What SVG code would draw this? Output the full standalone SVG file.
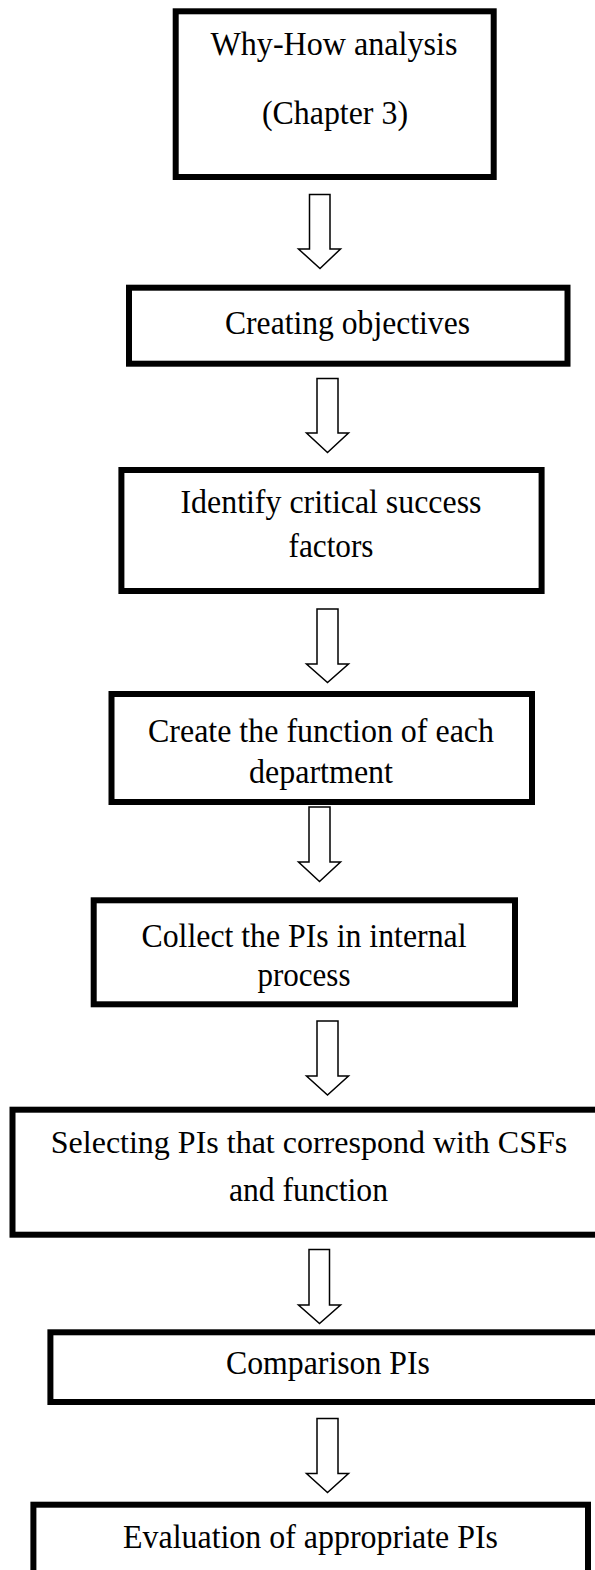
<svg xmlns="http://www.w3.org/2000/svg" width="595" height="1570" viewBox="0 0 595 1570">
  <style>
    .box { fill: #ffffff; stroke: #000000; stroke-width: 6; }
    .lbl { font-family: "Liberation Serif", "Times New Roman", serif; font-size: 34px; fill: #000000; text-anchor: middle; }
    .arrow { fill: #ffffff; stroke: #000000; stroke-width: 1.5; stroke-linejoin: miter; }
  </style>
  <rect x="0" y="0" width="595" height="1570" fill="#ffffff"/>

  <!-- block arrows between the steps -->
  <g id="connectors">
    <path class="arrow" d="M309.5,194.5 H330 V249 H340.5 L320,268.5 L298.5,249 H309.5 Z"/>
    <path class="arrow" d="M317,378.5 H338 V433 H348.5 L327.5,452.5 L306.5,433 H317 Z"/>
    <path class="arrow" d="M317,609 H338 V664 H348.5 L327.5,682.5 L306.5,664 H317 Z"/>
    <path class="arrow" d="M309,807 H330 V862 H340.5 L319.5,881.5 L298.5,862 H309 Z"/>
    <path class="arrow" d="M317,1021 H338 V1076 H348.5 L327.5,1095 L306.5,1076 H317 Z"/>
    <path class="arrow" d="M309,1249.5 H329.5 V1305 H340.5 L319.5,1323.5 L298.5,1305 H309 Z"/>
    <path class="arrow" d="M317,1418.5 H338 V1473.5 H348.5 L327.5,1492.5 L306.5,1473.5 H317 Z"/>
  </g>

  <g id="why-how">
    <rect class="box" x="175.7" y="11.3" width="318" height="165.7"/>
    <text class="lbl" x="334" y="55" textLength="247" lengthAdjust="spacingAndGlyphs">Why-How analysis</text>
    <text class="lbl" x="335" y="124" textLength="146" lengthAdjust="spacingAndGlyphs">(Chapter 3)</text>
  </g>

  <g id="creating-objectives">
    <rect class="box" x="129" y="287.7" width="438.5" height="76"/>
    <text class="lbl" x="347.5" y="334" textLength="245" lengthAdjust="spacingAndGlyphs">Creating objectives</text>
  </g>

  <g id="identify-csf">
    <rect class="box" x="121.4" y="470" width="420.2" height="121"/>
    <text class="lbl" x="331" y="513" textLength="301" lengthAdjust="spacingAndGlyphs">Identify critical success</text>
    <text class="lbl" x="331" y="557" textLength="85" lengthAdjust="spacingAndGlyphs">factors</text>
  </g>

  <g id="department-function">
    <rect class="box" x="111.5" y="694" width="420.5" height="108"/>
    <text class="lbl" x="321" y="742" textLength="346" lengthAdjust="spacingAndGlyphs">Create the function of each</text>
    <text class="lbl" x="321" y="783" textLength="144" lengthAdjust="spacingAndGlyphs">department</text>
  </g>

  <g id="collect-pis">
    <rect class="box" x="93.7" y="900.3" width="421.3" height="104"/>
    <text class="lbl" x="304" y="947" textLength="325" lengthAdjust="spacingAndGlyphs">Collect the PIs in internal</text>
    <text class="lbl" x="304" y="986" textLength="93" lengthAdjust="spacingAndGlyphs">process</text>
  </g>

  <g id="selecting-pis">
    <rect class="box" x="12.5" y="1109.7" width="590" height="125"/>
    <text class="lbl" x="309" y="1153" style="font-size:32px">Selecting PIs that correspond with CSFs</text>
    <text class="lbl" x="308.5" y="1201" textLength="159" lengthAdjust="spacingAndGlyphs">and function</text>
  </g>

  <g id="comparison-pis">
    <rect class="box" x="50.4" y="1332.3" width="552" height="69.7"/>
    <text class="lbl" x="328" y="1374" textLength="204" lengthAdjust="spacingAndGlyphs">Comparison PIs</text>
  </g>

  <g id="evaluation-pis">
    <rect class="box" x="33.4" y="1504.7" width="554.6" height="80"/>
    <text class="lbl" x="310.5" y="1548" textLength="375" lengthAdjust="spacingAndGlyphs">Evaluation of appropriate PIs</text>
  </g>
</svg>
